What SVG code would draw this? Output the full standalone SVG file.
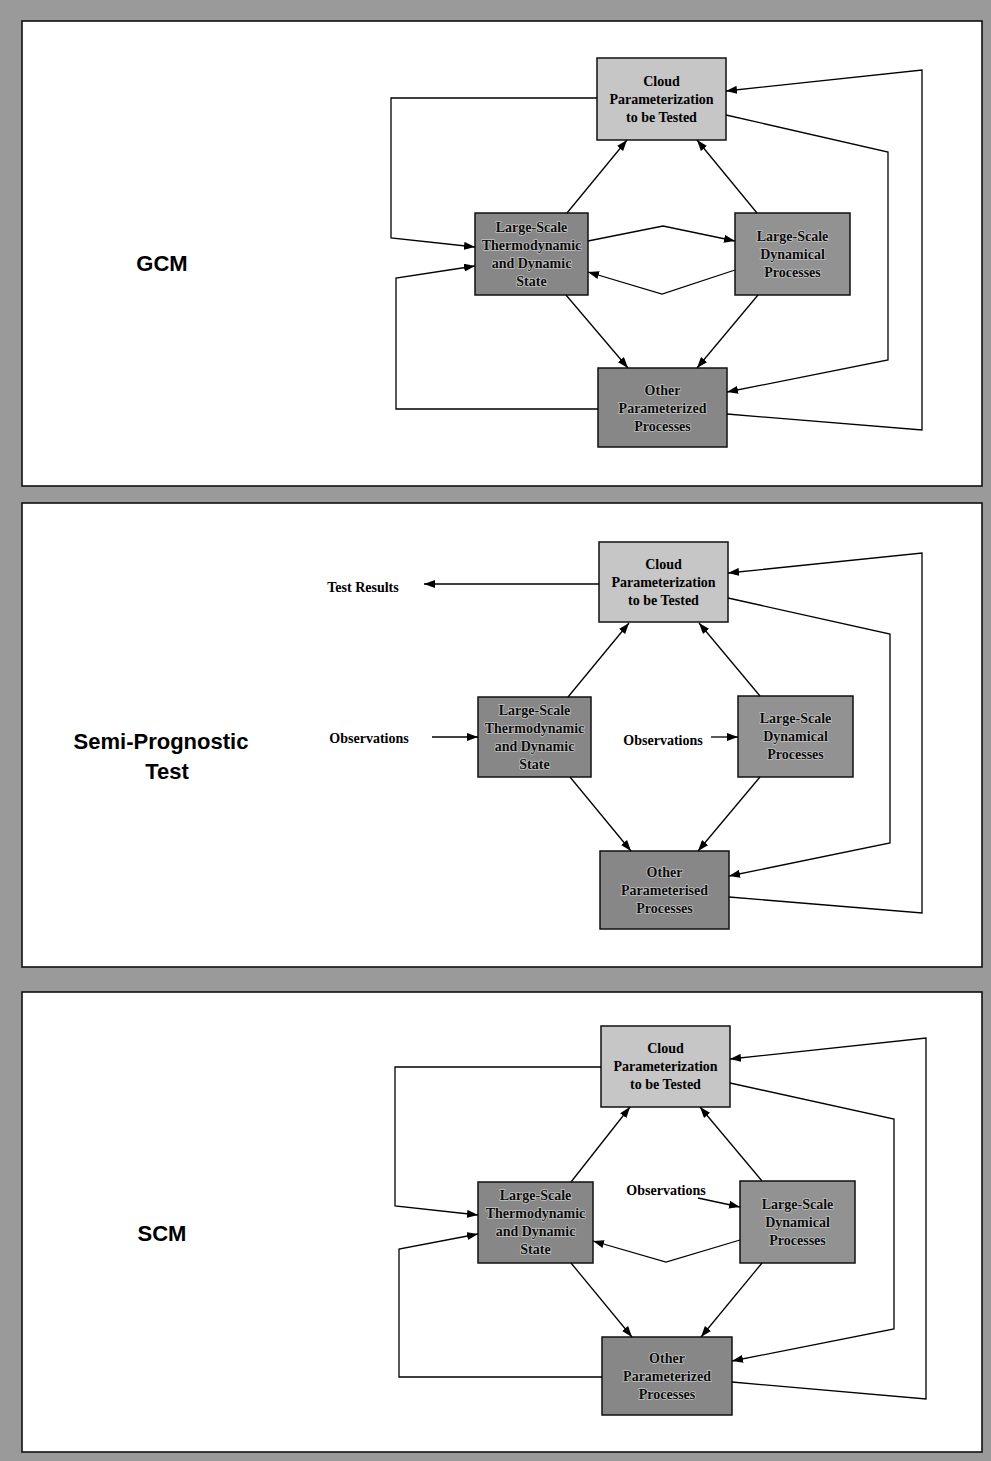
<svg xmlns="http://www.w3.org/2000/svg" width="991" height="1461" viewBox="0 0 991 1461">
<defs>
<marker id="ah" markerWidth="11" markerHeight="8" refX="11" refY="4" orient="auto" markerUnits="userSpaceOnUse">
<path d="M0,0 L11,4 L0,8 z" fill="#000"/>
</marker>
<style>
.panel{fill:#fff;stroke:#111;stroke-width:1.6}
.light{fill:#c6c6c6;stroke:#111;stroke-width:1.5}
.dark{fill:#878787;stroke:#111;stroke-width:1.5}
.mid{fill:#929292;stroke:#111;stroke-width:1.5}
.bt{font-family:"Liberation Serif","Times New Roman",serif;font-weight:bold;font-size:14px;text-anchor:middle;fill:#000}
.dt{font-family:"Liberation Serif","Times New Roman",serif;font-weight:bold;font-size:14px;text-anchor:middle;fill:#0a0a0a;stroke:#c4c4c4;stroke-width:1.6;paint-order:stroke;stroke-linejoin:round}
.lt{font-family:"Liberation Serif","Times New Roman",serif;font-weight:bold;font-size:14px;text-anchor:middle;fill:#000}
.pl{font-family:"Liberation Sans",Arial,sans-serif;font-weight:bold;font-size:22px;text-anchor:middle;fill:#000}
.a{fill:none;stroke:#000;stroke-width:1.3;marker-end:url(#ah)}
</style>
</defs>
<rect x="0" y="0" width="991" height="1461" fill="#9a9a9a"/>
<g id="panels">
<rect class="panel" x="22" y="21" width="960" height="465"/>
<rect class="panel" x="22" y="503" width="960" height="464"/>
<rect class="panel" x="22" y="992" width="960" height="460"/>
</g>

<!-- Panel 1: GCM -->
<g id="label-gcm"><text class="pl" x="162" y="271">GCM</text></g>
<g id="gcm-cloud">
<rect class="light" x="597" y="58" width="129" height="82"/>
<text class="bt" x="661.5" y="86">Cloud</text>
<text class="bt" x="661.5" y="104">Parameterization</text>
<text class="bt" x="661.5" y="122">to be Tested</text>
</g>
<g id="gcm-thermo">
<rect class="dark" x="475" y="213" width="113" height="82"/>
<text class="dt" x="531.5" y="232">Large-Scale</text>
<text class="dt" x="531.5" y="250">Thermodynamic</text>
<text class="dt" x="531.5" y="268">and Dynamic</text>
<text class="dt" x="531.5" y="286">State</text>
</g>
<g id="gcm-dyn">
<rect class="mid" x="735" y="213" width="115" height="82"/>
<text class="dt" x="792.5" y="241">Large-Scale</text>
<text class="dt" x="792.5" y="259">Dynamical</text>
<text class="dt" x="792.5" y="277">Processes</text>
</g>
<g id="gcm-other">
<rect class="dark" x="598" y="368" width="129" height="79"/>
<text class="dt" x="662.5" y="395">Other</text>
<text class="dt" x="662.5" y="413">Parameterized</text>
<text class="dt" x="662.5" y="431">Processes</text>
</g>
<g id="gcm-connectors">
<polyline class="a" points="597,98 391,98 391,238 475,247"/>
<polyline class="a" points="598,409 396,409 396,278 475,266"/>
<polyline class="a" points="588,241 663,226 735,241"/>
<polyline class="a" points="735,270 662,294 588,272"/>
<polyline class="a" points="567,213 627,140"/>
<polyline class="a" points="757,213 697,140"/>
<polyline class="a" points="566,295 628,368"/>
<polyline class="a" points="758,295 697,368"/>
<polyline class="a" points="726,115 888,152 888,360 727,392"/>
<polyline class="a" points="727,414 922,430 922,70 726,91"/>
</g>

<!-- Panel 2: Semi-Prognostic Test -->
<g id="label-spt">
<text class="pl" x="161" y="749">Semi-Prognostic</text>
<text class="pl" x="167" y="779">Test</text>
</g>
<g id="spt-cloud">
<rect class="light" x="599" y="542" width="129" height="80"/>
<text class="bt" x="663.5" y="569">Cloud</text>
<text class="bt" x="663.5" y="587">Parameterization</text>
<text class="bt" x="663.5" y="605">to be Tested</text>
</g>
<g id="spt-thermo">
<rect class="dark" x="478" y="697" width="113" height="80"/>
<text class="dt" x="534.5" y="715">Large-Scale</text>
<text class="dt" x="534.5" y="733">Thermodynamic</text>
<text class="dt" x="534.5" y="751">and Dynamic</text>
<text class="dt" x="534.5" y="769">State</text>
</g>
<g id="spt-dyn">
<rect class="mid" x="738" y="696" width="115" height="81"/>
<text class="dt" x="795.5" y="723">Large-Scale</text>
<text class="dt" x="795.5" y="741">Dynamical</text>
<text class="dt" x="795.5" y="759">Processes</text>
</g>
<g id="spt-other">
<rect class="dark" x="600" y="851" width="129" height="78"/>
<text class="dt" x="664.5" y="877">Other</text>
<text class="dt" x="664.5" y="895">Parameterised</text>
<text class="dt" x="664.5" y="913">Processes</text>
</g>
<g id="spt-labels">
<text class="lt" x="363" y="592">Test Results</text>
<text class="lt" x="369" y="743">Observations</text>
<text class="lt" x="663" y="745">Observations</text>
</g>
<g id="spt-connectors">
<polyline class="a" points="599,584 424,584"/>
<polyline class="a" points="432,737 478,737"/>
<polyline class="a" points="711,737 738,737"/>
<polyline class="a" points="568,697 629,623"/>
<polyline class="a" points="760,696 699,623"/>
<polyline class="a" points="570,777 631,851"/>
<polyline class="a" points="760,777 698,851"/>
<polyline class="a" points="728,598 890,634 890,843 729,876"/>
<polyline class="a" points="729,897 922,913 922,553 728,573"/>
</g>

<!-- Panel 3: SCM -->
<g id="label-scm"><text class="pl" x="162" y="1241">SCM</text></g>
<g id="scm-cloud">
<rect class="light" x="601" y="1026" width="129" height="81"/>
<text class="bt" x="665.5" y="1053">Cloud</text>
<text class="bt" x="665.5" y="1071">Parameterization</text>
<text class="bt" x="665.5" y="1089">to be Tested</text>
</g>
<g id="scm-thermo">
<rect class="dark" x="478" y="1182" width="115" height="81"/>
<text class="dt" x="535.5" y="1200">Large-Scale</text>
<text class="dt" x="535.5" y="1218">Thermodynamic</text>
<text class="dt" x="535.5" y="1236">and Dynamic</text>
<text class="dt" x="535.5" y="1254">State</text>
</g>
<g id="scm-dyn">
<rect class="mid" x="740" y="1181" width="115" height="82"/>
<text class="dt" x="797.5" y="1209">Large-Scale</text>
<text class="dt" x="797.5" y="1227">Dynamical</text>
<text class="dt" x="797.5" y="1245">Processes</text>
</g>
<g id="scm-other">
<rect class="dark" x="602" y="1337" width="130" height="78"/>
<text class="dt" x="667" y="1363">Other</text>
<text class="dt" x="667" y="1381">Parameterized</text>
<text class="dt" x="667" y="1399">Processes</text>
</g>
<g id="scm-labels">
<text class="lt" x="666" y="1195">Observations</text>
</g>
<g id="scm-connectors">
<polyline class="a" points="601,1067 395,1067 395,1206 478,1215"/>
<polyline class="a" points="602,1377 399,1377 399,1249 478,1234"/>
<polyline class="a" points="698,1198 740,1207"/>
<polyline class="a" points="740,1240 666,1262 593,1241"/>
<polyline class="a" points="571,1182 630,1107"/>
<polyline class="a" points="762,1181 700,1107"/>
<polyline class="a" points="571,1263 632,1337"/>
<polyline class="a" points="762,1263 701,1337"/>
<polyline class="a" points="730,1083 894,1119 894,1329 732,1361"/>
<polyline class="a" points="732,1382 926,1399 926,1038 730,1059"/>
</g>
</svg>
